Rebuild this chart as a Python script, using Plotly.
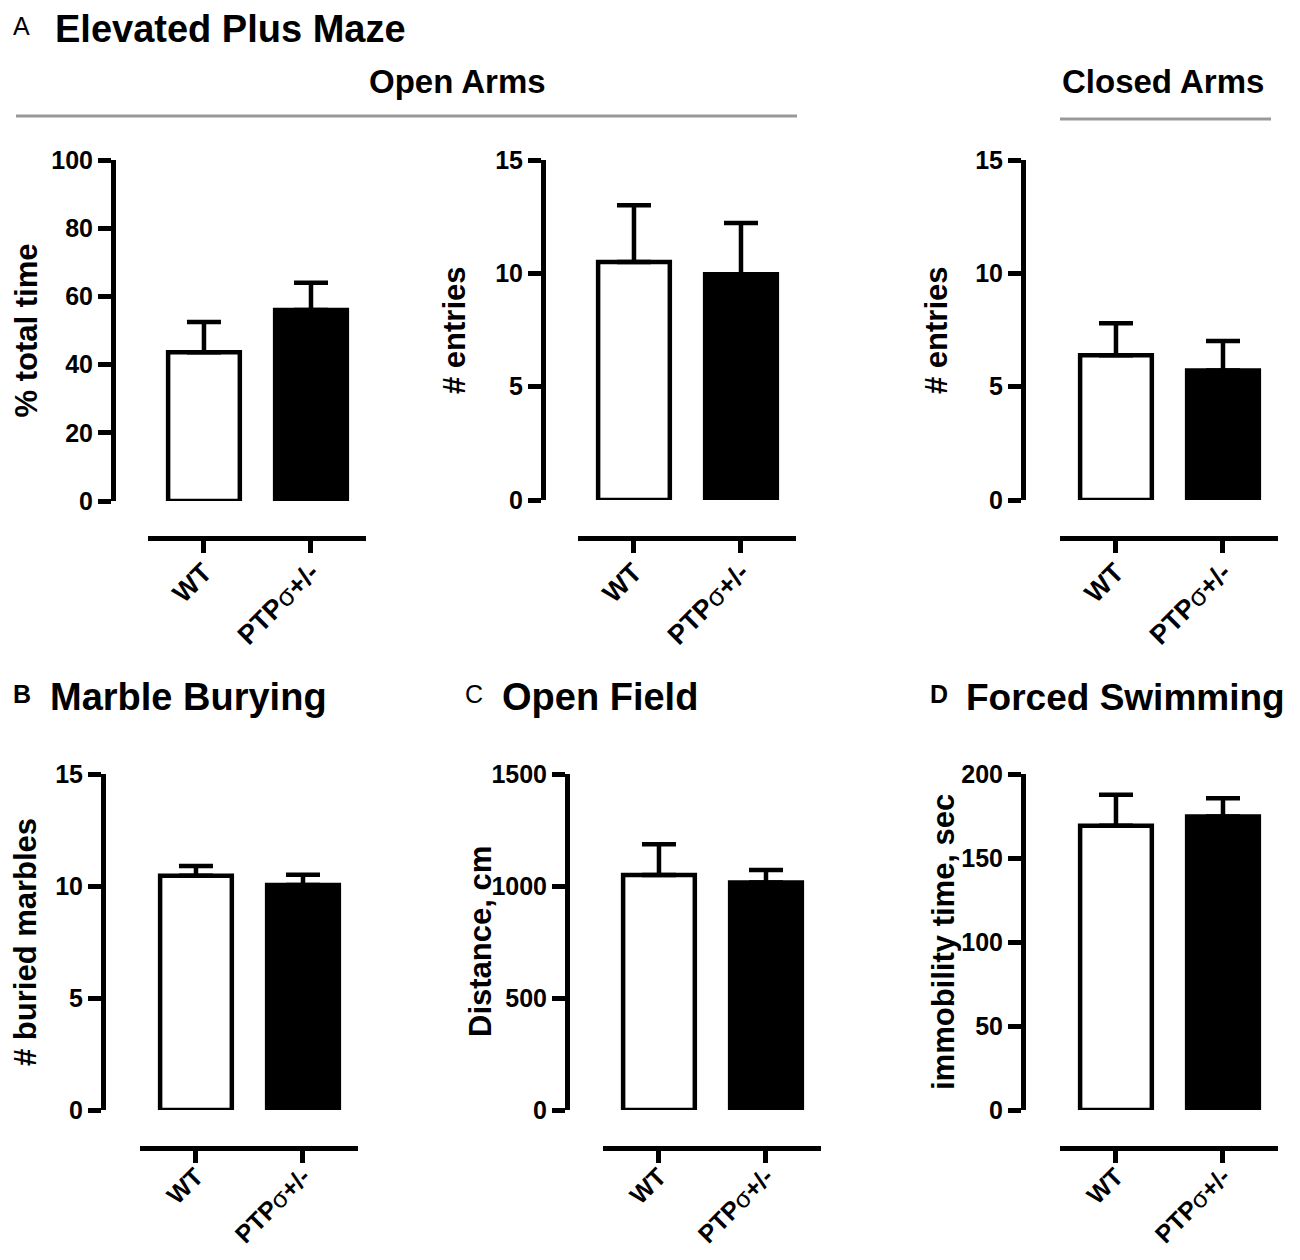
import plotly.graph_objects as go

# page has an 8px body margin, so the figure is sized to fit inside the window
OFF = 8
W, H = 1300 - 2 * OFF, 1260 - 2 * OFF

# data (mean and upward SEM)
groups = ["WT", "PTPσ+/-"]
tick_labels = ["WT", "PTP<span style='font-weight:normal'>σ</span>+/-"]

open_time_mean = [43.6, 56.0]
open_time_sem = [8.9, 8.0]
open_entries_mean = [10.5, 9.96]
open_entries_sem = [2.5, 2.26]
closed_entries_mean = [6.39, 5.71]
closed_entries_sem = [1.41, 1.30]
marbles_mean = [10.46, 10.04]
marbles_sem = [0.43, 0.46]
distance_mean = [1049, 1016]
distance_sem = [137, 55]
immobility_mean = [169.2, 174.7]
immobility_sem = [18.4, 10.9]

y_titles = ["% total time", "# entries", "# entries",
            "# buried marbles", "Distance, cm", "immobility time, sec"]
y_maxes = [100, 15, 15, 15, 1500, 200]
y_dticks = [20, 5, 5, 5, 500, 50]

means = [open_time_mean, open_entries_mean, closed_entries_mean,
         marbles_mean, distance_mean, immobility_mean]
sems = [open_time_sem, open_entries_sem, closed_entries_sem,
        marbles_sem, distance_sem, immobility_sem]

FONT = "Liberation Sans"


def fx(px):
    return (px - OFF) / W


def fy(py):
    return 1 - (py - OFF) / H


# layout of each panel in screen pixels:
# y-axis x, x-axis left, plot top, plot bottom, x-axis line y, y title x, x label size, label standoff
panels = [
    (113, 148, 160, 501, 538, 26, 27, -7),
    (543, 578, 160, 500, 538, 455, 27, -7),
    (1023, 1060, 160, 500, 538, 937, 27, -7),
    (103, 140, 774, 1110, 1148, 25, 25, -11),
    (567, 603, 774, 1110, 1148, 480, 25, -11),
    (1023, 1060, 774, 1110, 1148, 943, 25, -11),
]

fig = go.Figure()
layout = {}
annotations = []

for i, (yx, xl, top, bot, xline, tx, lsize, lstand) in enumerate(panels):
    n = "" if i == 0 else str(i + 1)
    fig.add_trace(go.Bar(
        x=groups, y=means[i],
        xaxis="x" + n, yaxis="y" + n,
        width=0.67,
        marker=dict(color=["white", "black"], line=dict(color="black", width=4.5)),
        error_y=dict(type="data", array=sems[i], arrayminus=[0, 0],
                     color="black", thickness=4.5, width=17),
        showlegend=False,
    ))
    layout["xaxis" + n] = dict(
        domain=[fx(xl), fx(xl + 218)],
        anchor="free", position=fy(xline),
        range=[-0.523, 1.514], type="category",
        tickvals=groups, ticktext=tick_labels, tickangle=-45,
        ticklabelstandoff=lstand,
        showline=True, linecolor="black", linewidth=5,
        ticks="outside", ticklen=12, tickwidth=5, tickcolor="black",
        tickfont=dict(family=FONT, size=lsize, color="black", weight="bold"),
        showgrid=False, zeroline=False, fixedrange=True, automargin=False,
    )
    layout["yaxis" + n] = dict(
        domain=[fy(bot), fy(top)],
        anchor="free", position=fx(yx),
        range=[0, y_maxes[i]], dtick=y_dticks[i], tick0=0,
        showline=True, linecolor="black", linewidth=5,
        ticks="outside", ticklen=13, tickwidth=5, tickcolor="black",
        tickfont=dict(family=FONT, size=25, color="black", weight="bold"),
        showgrid=False, zeroline=False, fixedrange=True, automargin=False,
    )
    annotations.append(dict(
        text=y_titles[i], x=fx(tx), y=fy((top + bot) / 2),
        xref="paper", yref="paper", xanchor="center", yanchor="middle",
        textangle=-90, showarrow=False,
        font=dict(family=FONT, size=31, color="black", weight="bold"),
    ))

# panel headings: (letter, letter x, title, title x, y, letter weight, title size)
headings = [
    ("A", 11, "Elevated Plus Maze", 53, 29, "normal", 38),
    ("B", 11, "Marble Burying", 48, 697, "bold", 38),
    ("C", 463, "Open Field", 500, 697, "normal", 38),
    ("D", 928, "Forced Swimming", 964, 697, "bold", 37),
]
for letter, lx, title, tx, ty, lw, ts in headings:
    annotations.append(dict(
        text=letter, x=fx(lx), y=fy(ty - 3), xref="paper", yref="paper",
        xanchor="left", yanchor="middle", showarrow=False,
        font=dict(family=FONT, size=25, color="black", weight=lw),
    ))
    annotations.append(dict(
        text=title, x=fx(tx), y=fy(ty), xref="paper", yref="paper",
        xanchor="left", yanchor="middle", showarrow=False,
        font=dict(family=FONT, size=ts, color="black", weight="bold"),
    ))

for text, cx in [("Open Arms", 457), ("Closed Arms", 1163)]:
    annotations.append(dict(
        text=text, x=fx(cx), y=fy(82), xref="paper", yref="paper",
        xanchor="center", yanchor="middle", showarrow=False,
        font=dict(family=FONT, size=33, color="black", weight="bold"),
    ))

shapes = [
    dict(type="line", xref="paper", yref="paper", x0=fx(16), x1=fx(797),
         y0=fy(116), y1=fy(116), line=dict(color="#999999", width=3)),
    dict(type="line", xref="paper", yref="paper", x0=fx(1060), x1=fx(1271),
         y0=fy(119), y1=fy(119), line=dict(color="#999999", width=3)),
]

fig.update_layout(
    width=W, height=H,
    margin=dict(l=0, r=0, t=0, b=0, autoexpand=False),
    paper_bgcolor="white", plot_bgcolor="white",
    annotations=annotations, shapes=shapes,
    **layout,
)

fig.write_html("out.html")
